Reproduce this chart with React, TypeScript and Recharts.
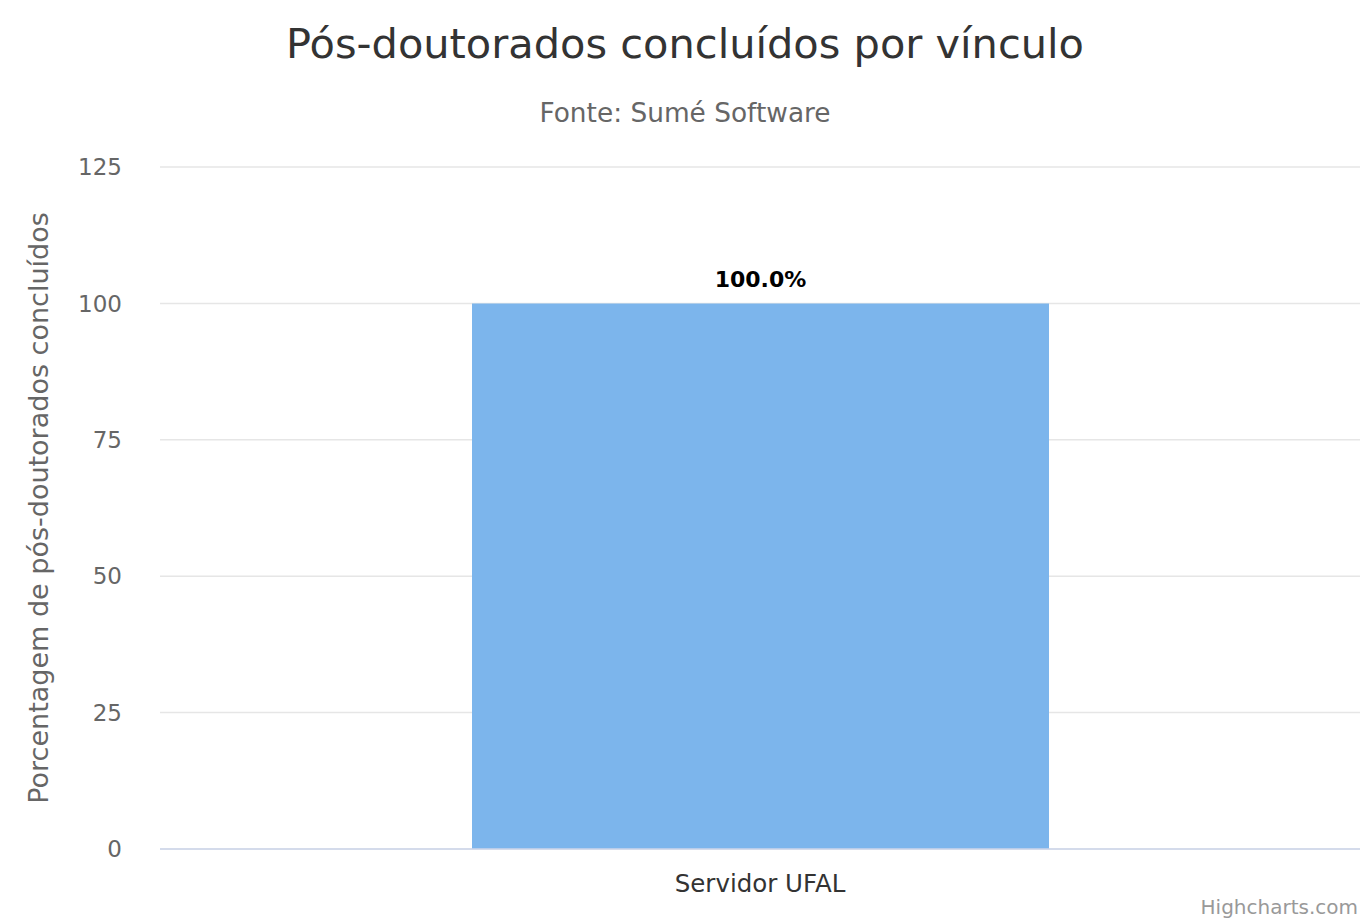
import React from "react";
import { BarChart, Bar, XAxis, YAxis, CartesianGrid, LabelList, Label } from "recharts";

const categories = ["Servidor UFAL"];
const percentages = [100.0];
const yTicks = [0, 25, 50, 75, 100, 125];

const chartTitle = "Pós-doutorados concluídos por vínculo";
const chartSubtitle = "Fonte: Sumé Software";
const yAxisTitle = "Porcentagem de pós-doutorados concluídos";
const credits = "Highcharts.com";

const data = categories.map((c, i) => ({ name: c, value: percentages[i] }));

const FONT = '"DejaVu Sans", Verdana, sans-serif';

export default function App() {
  return (
    <div style={{ position: "absolute", left: 0, top: 0, width: 1360, height: 921, background: "#fff", fontFamily: FONT, overflow: "hidden" }}>
      <div style={{ position: "absolute", left: 0, width: 1370, top: 17, textAlign: "center", fontSize: 41.5, color: "#333", lineHeight: "54px" }}>
        {chartTitle}
      </div>
      <div style={{ position: "absolute", left: 0, width: 1370, top: 96, textAlign: "center", fontSize: 26.4, color: "#666", lineHeight: "34px" }}>
        {chartSubtitle}
      </div>
      <BarChart
        width={1360}
        height={921}
        data={data}
        margin={{ top: 167, right: 0, bottom: 0, left: 0 }}
        barCategoryGap={0}
      >
        <CartesianGrid vertical={false} stroke="#e6e6e6" strokeWidth={1.5} />
        <XAxis
          dataKey="name"
          axisLine={{ stroke: "#ccd6eb", strokeWidth: 1.5 }}
          tickLine={false}
          tick={{ fill: "#333", fontSize: 24.5, fontFamily: FONT }}
          tickMargin={20}
          height={72}
        />
        <YAxis
          domain={[0, 125]}
          ticks={yTicks}
          axisLine={false}
          tickLine={false}
          tickSize={0}
          tickMargin={38}
          width={160}
          tick={{ fill: "#666", fontSize: 23, fontFamily: FONT }}
        >
          <Label
            content={(props: any) => {
              const vb = props.viewBox || {};
              const cx = 38;
              const cy = vb.y + vb.height / 2;
              return (
                <text
                  x={cx}
                  y={cy}
                  transform={`rotate(-90, ${cx}, ${cy})`}
                  textAnchor="middle"
                  dominantBaseline="central"
                  fill="#666"
                  fontSize={27}
                  fontFamily={FONT}
                >
                  {yAxisTitle}
                </text>
              );
            }}
          />
        </YAxis>
        <Bar dataKey="value" fill="#7cb5ec" barSize={577} isAnimationActive={false}>
          <LabelList
            dataKey="value"
            position="top"
            offset={16}
            formatter={(v: any) => `${Number(v).toFixed(1)}%`}
            style={{ fill: "#000", fontSize: 22, fontWeight: "bold", fontFamily: FONT }}
          />
        </Bar>
      </BarChart>
      <div style={{ position: "absolute", right: 2, top: 895, fontSize: 20, color: "#999", lineHeight: "24px", whiteSpace: "nowrap" }}>
        {credits}
      </div>
    </div>
  );
}
